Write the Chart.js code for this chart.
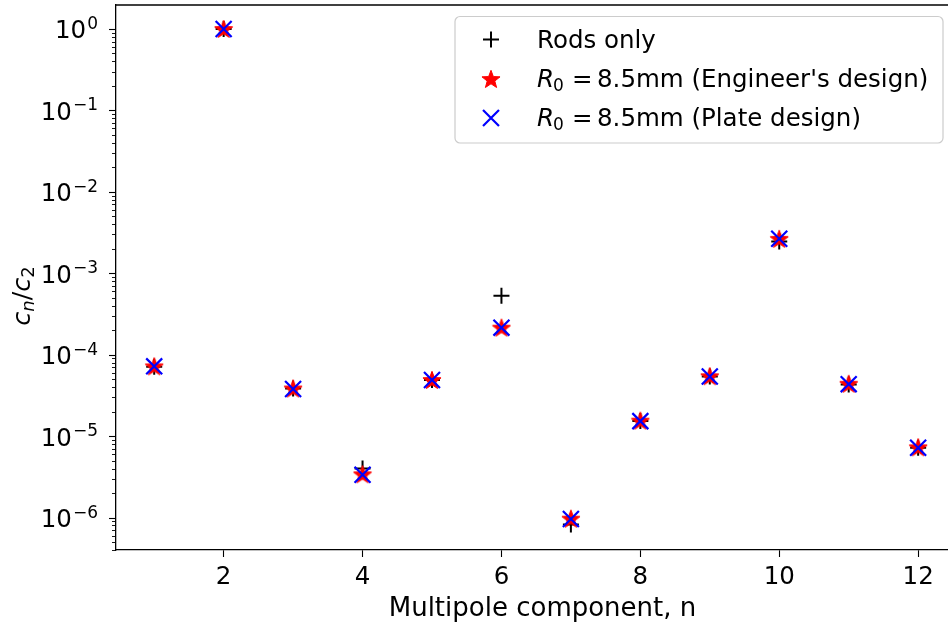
<!DOCTYPE html>
<html>
<head>
<meta charset="utf-8">
<script src="https://cdn.jsdelivr.net/npm/chart.js@4"></script>
<style>
html,body{margin:0;padding:0;background:#fff;overflow:hidden;}
#wrap{width:948px;height:632px;position:relative;}
</style>
</head>
<body>
<div id="wrap"><canvas id="c" width="948" height="632"></canvas></div>
<script>
// ---- data ----
const components = [1, 2, 3, 4, 5, 6, 7, 8, 9, 10, 11, 12];
const rodsOnly =   [7.1e-5, 1.0, 3.85e-5, 4.0e-6, 4.9e-5, 5.3e-4, 8.2e-7, 1.53e-5, 5.4e-5, 2.45e-3, 4.3e-5, 7.2e-6];
const engineer =   [7.2e-5, 1.0, 3.85e-5, 3.4e-6, 4.9e-5, 2.15e-4, 9.7e-7, 1.55e-5, 5.45e-5, 2.65e-3, 4.4e-5, 7.3e-6];
const plate =      [7.2e-5, 1.0, 3.8e-5, 3.35e-6, 4.9e-5, 2.15e-4, 9.6e-7, 1.53e-5, 5.4e-5, 2.65e-3, 4.35e-5, 7.2e-6];
const seriesLabels = ["Rods only", "R0 = 8.5mm (Engineer's design)", "R0 = 8.5mm (Plate design)"];
const xTicks = [2, 4, 6, 8, 10, 12];
const yTickExps = [0, -1, -2, -3, -4, -5, -6];
const yTickSup = ["0", "\u22121", "\u22122", "\u22123", "\u22124", "\u22125", "\u22126"];
const xTitle = "Multipole component, n";

const FONT = '"DejaVu Sans", "Liberation Sans", sans-serif';

function makeStar(size, color) {
  const c = document.createElement('canvas');
  c.width = size; c.height = size;
  const g = c.getContext('2d');
  const cx = size / 2, cy = size / 2 + 0.8, R = size / 2 - 0.5, r = R * 0.42;
  g.beginPath();
  for (let i = 0; i < 10; i++) {
    const a = -Math.PI / 2 + i * Math.PI / 5;
    const rr = i % 2 === 0 ? R : r;
    const px = cx + rr * Math.cos(a), py = cy + rr * Math.sin(a);
    if (i === 0) g.moveTo(px, py); else g.lineTo(px, py);
  }
  g.closePath();
  g.fillStyle = color; g.fill();
  g.strokeStyle = color; g.lineWidth = 1; g.stroke();
  return c;
}
const starImg = makeStar(20, '#ff0000');

function pts(arr) { return components.map((n, i) => ({x: n, y: arr[i]})); }

const datasets = [
  {label: seriesLabels[0], data: pts(rodsOnly), pointStyle: 'cross', radius: 8, borderColor: '#000', backgroundColor: '#000', borderWidth: 2, order: 2, showLine: false},
  {label: seriesLabels[1], data: pts(engineer), pointStyle: starImg, radius: 10, borderColor: '#f00', backgroundColor: '#f00', borderWidth: 0, order: 1, showLine: false},
  {label: seriesLabels[2], data: pts(plate), pointStyle: 'crossRot', radius: 11.3, borderColor: '#0000ff', backgroundColor: '#0000ff', borderWidth: 2.2, order: 0, showLine: false}
];

function drawMathR0(ctx, x, baseline, rest) {
  ctx.textAlign = 'left';
  ctx.textBaseline = 'alphabetic';
  ctx.font = 'italic 24.5px ' + FONT;
  ctx.fillText('R', x, baseline);
  ctx.font = '17px ' + FONT;
  ctx.fillText('0', x + 16, baseline + 4);
  ctx.font = '24.5px ' + FONT;
  ctx.fillText('=', x + 35, baseline);
  ctx.fillText(rest, x + 60, baseline);
}

const decor = {
  id: 'decor',
  afterDraw(chart) {
    const ctx = chart.ctx;
    const ca = chart.chartArea;
    const ys = chart.scales.y;
    ctx.save();
    // top spine
    ctx.strokeStyle = '#000';
    ctx.lineWidth = 1.3;
    ctx.beginPath();
    ctx.moveTo(ca.left - 0.6, ca.top);
    ctx.lineTo(ca.right + 1, ca.top);
    ctx.stroke();
    // y ticks major
    ctx.lineWidth = 1.1;
    yTickExps.forEach((e) => {
      const py = Math.round(ys.getPixelForValue(Math.pow(10, e))) + 0.5;
      ctx.beginPath(); ctx.moveTo(ca.left - 7, py); ctx.lineTo(ca.left, py); ctx.stroke();
    });
    // minor ticks
    ctx.lineWidth = 0.9;
    for (let e = -7; e <= 0; e++) {
      for (let m = 2; m <= 9; m++) {
        const v = m * Math.pow(10, e);
        if (v < ys.min || v > ys.max) continue;
        const py = Math.round(ys.getPixelForValue(v)) + 0.5;
        ctx.beginPath(); ctx.moveTo(ca.left - 4, py); ctx.lineTo(ca.left, py); ctx.stroke();
      }
    }
    // y tick labels
    ctx.fillStyle = '#000';
    ctx.textBaseline = 'alphabetic';
    ctx.textAlign = 'right';
    yTickExps.forEach((e, i) => {
      const py = ys.getPixelForValue(Math.pow(10, e));
      const right = ca.left - 18;
      ctx.font = '17px ' + FONT;
      const sw = ctx.measureText(yTickSup[i]).width;
      ctx.fillText(yTickSup[i], right, py + 0);
      ctx.font = '24.5px ' + FONT;
      ctx.fillText('10', right - sw - 1, py + 9.5);
    });
    // x title
    ctx.font = '26px ' + FONT;
    ctx.textAlign = 'center';
    ctx.textBaseline = 'middle';
    ctx.fillText(xTitle, 542.5, ca.bottom + 59);
    // y title c_n / c_2
    ctx.save();
    ctx.translate(30, 296);
    ctx.rotate(-Math.PI / 2);
    ctx.textAlign = 'left';
    ctx.textBaseline = 'alphabetic';
    const parts = [
      {t: 'c', f: 'italic 25.5px ', dy: 0},
      {t: 'n', f: 'italic 18px ', dy: 4},
      {t: '/', f: '25.5px ', dy: 0},
      {t: 'c', f: 'italic 25.5px ', dy: 0},
      {t: '2', f: '18px ', dy: 4}
    ];
    let tw = 0;
    parts.forEach(p => { ctx.font = p.f + FONT; p.w = ctx.measureText(p.t).width; tw += p.w; });
    let cx = -tw / 2;
    parts.forEach(p => { ctx.font = p.f + FONT; ctx.fillText(p.t, cx, p.dy); cx += p.w; });
    ctx.restore();
    // legend
    const lx = 455, ly = 16.5, lw = 488, lh = 126.5;
    ctx.fillStyle = 'rgba(255,255,255,0.8)';
    ctx.strokeStyle = '#cccccc';
    ctx.lineWidth = 1.2;
    ctx.beginPath();
    if (ctx.roundRect) ctx.roundRect(lx, ly, lw, lh, 5); else ctx.rect(lx, ly, lw, lh);
    ctx.fill(); ctx.stroke();
    const rows = [39.5, 79, 118];
    rows.forEach((ry, i) => {
      const ds = chart.data.datasets[i];
      ctx.strokeStyle = ds.borderColor; ctx.fillStyle = ds.backgroundColor;
      ctx.lineWidth = ds.borderWidth;
      Chart.helpers.drawPoint(ctx, {pointStyle: ds.pointStyle, radius: ds.radius, rotation: 0, borderWidth: ds.borderWidth}, 491, ry);
      ctx.fillStyle = '#000';
      const base = ry + 8;
      if (i === 0) {
        ctx.font = '24.5px ' + FONT; ctx.textAlign = 'left'; ctx.textBaseline = 'alphabetic';
        ctx.fillText(ds.label, 537, base);
      } else {
        drawMathR0(ctx, 537, base, ds.label.replace('R0 = ', ''));
      }
    });
    ctx.restore();
  }
};

function zeroPad(s) { s.paddingLeft = 0; s.paddingRight = 0; s.paddingTop = 0; s.paddingBottom = 0; }

new Chart(document.getElementById('c'), {
  type: 'scatter',
  data: {datasets},
  options: {
    responsive: false,
    animation: false,
    devicePixelRatio: 1,
    layout: {autoPadding: false, padding: {top: 5, left: 0, right: 0, bottom: 0}},
    plugins: {legend: {display: false}, tooltip: {enabled: false}},
    scales: {
      x: {
        type: 'linear', min: 0.45, max: 12.43,
        afterBuildTicks: (s) => { s.ticks = xTicks.map(v => ({value: v})); },
        afterFit: (s) => { s.height = 82; zeroPad(s); },
        ticks: {color: '#000', font: {family: FONT, size: 24.5}, padding: 6, maxRotation: 0, autoSkip: false},
        grid: {display: true, drawOnChartArea: false, drawTicks: true, tickLength: 7, tickColor: '#000', tickWidth: 1.1},
        border: {display: true, color: '#000', width: 1.3}
      },
      y: {
        type: 'logarithmic', min: 4e-7, max: 1.97,
        afterFit: (s) => { s.width = 116; zeroPad(s); },
        ticks: {display: false},
        grid: {display: false},
        border: {display: true, color: '#000', width: 1.3}
      }
    }
  },
  plugins: [decor]
});
</script>
</body>
</html>
